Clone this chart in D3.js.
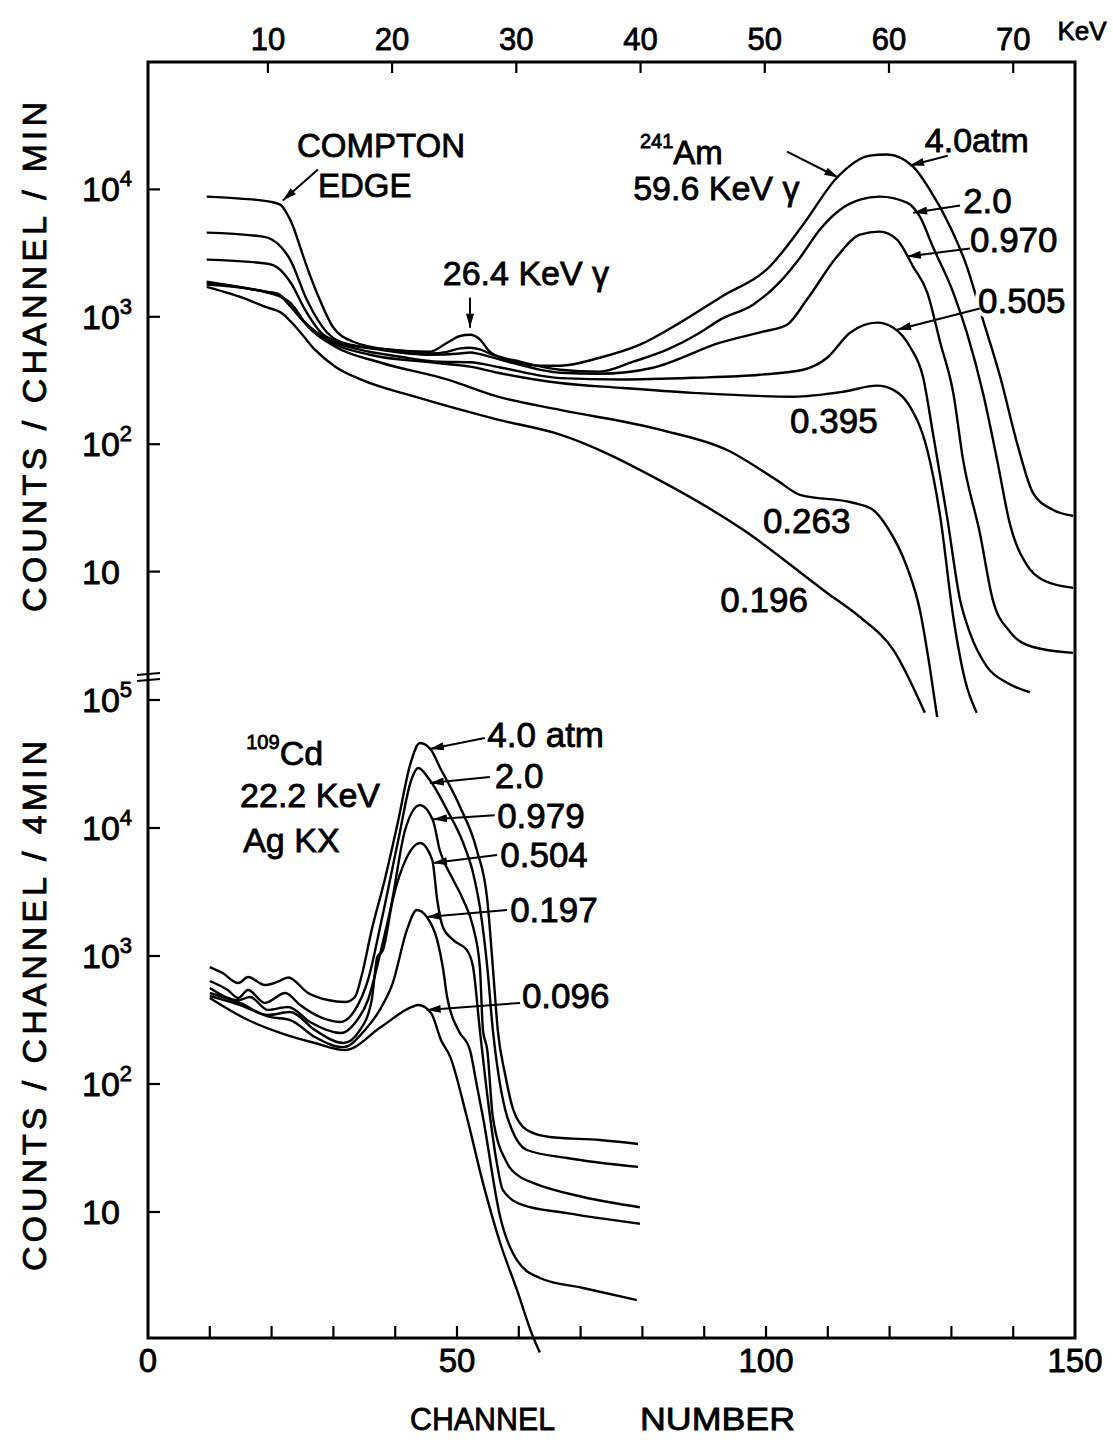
<!DOCTYPE html>
<html>
<head>
<meta charset="utf-8">
<script src="https://cdn.jsdelivr.net/npm/d3@7"></script>
<style>
  body { margin: 0; background: #fff; }
  text { font-family: "Liberation Sans", Arial, sans-serif; fill: #000; stroke: #000; stroke-width: 0.8px; }
  text.halo { fill: #fff; stroke: #fff; stroke-width: 9px; }
</style>
</head>
<body>
<svg id="chart" width="1113" height="1442"></svg>
<script>
// ---- data: [channel, counts] ----
// 241Am, counts / channel / min
var amP40 = [[9.5,8780],[14.9,8470],[19.7,8020],[21.4,7590],[22.3,6690],[23.5,5090],[24.6,3550],[25.7,2480],[27.8,1360],[29.9,836],[33.2,637],[39.2,552],[45.6,532],[48.4,626],[50.5,707],[52.1,723],[53.7,665],[55.3,532],[58.1,461],[63.4,413],[66.7,413],[73.1,477],[79.6,604],[86.1,900],[92.6,1420],[100.6,2480],[106.0,5280],[111.5,12400],[116.8,18400],[119.6,18800],[123.8,15100],[126.5,9960],[129.8,5090],[132.5,2480],[135.1,950],[137.9,338],[140.6,103],[143.2,41.5],[146.4,30.6],[149.7,27.4]];
var amP20 = [[9.5,4580],[18.6,4260],[20.1,4030],[23.0,2810],[25.7,1360],[29.0,750],[32.7,604],[39.2,552],[45.6,515],[48.4,530],[50.5,565],[52.1,572],[53.7,555],[55.3,515],[60.2,444],[66.7,384],[73.1,371],[78.5,444],[84.0,552],[89.3,750],[92.6,950],[97.9,1245],[102.3,1890],[105.5,2910],[108.7,4830],[112.0,6930],[115.2,8300],[118.4,8780],[122.8,7870],[124.9,6110],[127.0,3550],[130.3,1550],[132.5,750],[135.1,253],[137.4,75],[139.5,23.3],[142.2,11.3],[144.8,8.6],[149.7,7.45]];
var amP0970 = [[9.5,2810],[19.4,2610],[21.0,2430],[23.1,1850],[25.4,1140],[28.0,750],[31.2,626],[37.5,552],[45.6,504],[50.5,515],[52.1,525],[53.7,510],[57.0,461],[66.7,364],[73.1,357],[81.7,398],[92.6,626],[99.5,764],[103.4,867],[106.6,1360],[111.5,2970],[115.2,4420],[118.4,4660],[121.2,4030],[123.8,2480],[126.1,1550],[128.2,626],[130.3,253],[131.9,75],[134.6,20.1],[136.7,6.0],[139.5,3.36],[143.2,2.56],[149.7,2.30]];
var amP0505 = [[9.5,1890],[19.4,1570],[21.0,1520],[23.1,1200],[25.4,900],[28.6,685],[34.3,552],[40.8,486],[47.2,444],[52.1,440],[57.0,400],[66.7,330],[76.4,322],[88.2,332],[99.0,351],[106.0,384],[109.9,477],[113.6,750],[118.0,900],[120.6,821],[123.3,582],[125.4,338],[127.0,123],[129.3,26.9],[131.4,6.0],[133.0,3.3],[135.8,1.78],[139.0,1.34],[142.7,1.13]];
var amP0395 = [[9.5,1850],[19.4,1550],[21.4,1460],[23.5,1140],[25.7,867],[29.4,637],[35.9,504],[46.4,436],[52.1,406],[56.6,364],[66.7,302],[76.4,277],[88.2,253],[104.4,236],[112.5,258],[118.0,288],[120.6,267],[123.3,197],[126.1,90],[128.2,26.9],[130.3,4.4],[132.2,1.41],[134.1,0.78]];
var amP0263 = [[9.5,1790],[19.4,1550],[21.4,1440],[23.0,1290],[25.9,836],[30.3,582],[37.7,436],[48.5,321],[56.6,236],[66.7,186],[82.8,130],[93.7,90],[101.8,52],[105.5,40],[114.1,34.7],[117.3,30.6],[119.6,22.4],[122.8,10.9],[124.9,5.0],[126.5,1.78],[127.7,0.72]];
var amP0196 = [[9.5,1720],[13.3,1520],[16.2,1360],[18.9,1200],[21.5,1080],[24.3,792],[27.0,552],[30.3,406],[34.5,321],[43.2,236],[56.6,156],[66.7,119],[82.8,52],[96.3,21.3],[109.9,6.8],[115.2,4.4],[120.6,2.43],[125.7,0.78]];

// 109Cd, counts / channel / 4 min
var cdP40 = [[10.0,820],[12.0,740],[14.6,615],[16.2,685],[18.9,593],[21.0,630],[22.7,680],[25.9,514],[29.1,453],[31.9,437],[33.5,480],[34.6,711],[36.2,1600],[38.3,3930],[40.5,11500],[42.4,31000],[44.0,46100],[45.8,40700],[47.2,30000],[50.5,14600],[53.2,6730],[54.9,2740],[55.8,820],[56.6,264],[57.8,118],[59.1,63],[61.3,43.7],[65.0,38.5],[73.1,36.5],[79.3,34.0]];
var cdP20 = [[10.0,638],[12.9,542],[14.6,470],[16.2,542],[18.9,430],[22.2,514],[24.6,414],[27.8,334],[31.1,305],[33.5,379],[35.6,650],[37.7,1810],[40.5,8050],[42.6,23700],[43.7,29400],[45.6,23700],[48.4,13800],[51.0,7640],[52.6,4450],[53.7,2410],[54.9,820],[55.8,264],[56.6,129],[57.8,63],[58.9,43.7],[61.3,30.5],[67.8,26.4],[79.3,22.5]];
var cdP0979 = [[10.0,562],[14.6,453],[16.5,478],[19.4,379],[22.7,400],[26.2,305],[31.2,250],[33.5,300],[35.6,453],[37.7,1110],[39.3,2410],[41.6,9650],[44.0,15100],[46.1,11500],[47.2,6730],[49.4,3930],[51.0,2740],[52.6,1690],[53.7,820],[54.2,264],[54.9,184],[55.8,55],[58.1,24.1],[60.2,18.8],[62.3,16.9],[70.4,13.1],[79.6,10.9]];
var cdP0504 = [[10.0,514],[14.9,430],[19.4,346],[23.0,365],[27.0,264],[31.6,209],[34.3,264],[36.2,453],[37.1,982],[38.0,1110],[39.6,2740],[41.9,5930],[44.0,7640],[46.0,5620],[46.8,2740],[47.7,1690],[49.4,1330],[51.6,1110],[52.6,820],[53.7,264],[55.0,75],[56.5,23.3],[57.4,14.9],[60.7,11.3],[67.8,9.8],[79.6,8.1]];
var cdP0197 = [[10.0,487],[14.9,414],[19.7,334],[23.0,316],[27.0,233],[31.6,194],[35.1,264],[37.5,379],[39.6,615],[41.9,1600],[43.5,2290],[45.1,2020],[46.8,1330],[47.7,820],[48.4,478],[50.2,264],[52.1,184],[53.2,98],[54.2,55],[57.0,9.1],[59.7,4.2],[63.4,3.05],[70.4,2.55],[79.1,2.05]];
var cdP0096 = [[10.0,470],[16.2,316],[21.5,250],[27.0,209],[31.9,184],[37.7,279],[42.7,400],[43.7,414],[45.8,359],[47.4,221],[48.9,163],[51.6,55],[54.2,16.9],[57.0,5.7],[59.7,2.46],[62.3,1.06],[63.4,0.8]];

// tick labels
var kevTicks = [10, 20, 30, 40, 50, 60, 70];
var channelLabels = [0, 50, 100, 150];
var channelMinor = [10, 20, 30, 40, 50, 60, 70, 80, 90, 100, 110, 120, 130, 140];
var decadesTop = [1e4, 1e3, 1e2, 10];
var decadesBot = [1e5, 1e4, 1e3, 1e2, 10];

// ---- layout ----
var frameTop = 62, frameBottom = 1338;
var x = d3.scaleLinear().domain([0, 150]).range([148, 1075]);
var xKev = d3.scaleLinear().domain([10, 70]).range([x(19.4), x(140)]);
var yTop = d3.scaleLog().domain([1, 1e5]).range([699, frameTop]);
var yBot = d3.scaleLog().domain([1, 1e5]).range([1340, 700]);

var svg = d3.select('#chart');
svg.append('rect').attr('width', 1113).attr('height', 1442).attr('fill', '#fff');

var defs = svg.append('defs');
defs.append('marker')
  .attr('id', 'arrow')
  .attr('viewBox', '0 0 14 8')
  .attr('refX', 14).attr('refY', 4)
  .attr('markerWidth', 15).attr('markerHeight', 8)
  .attr('markerUnits', 'userSpaceOnUse')
  .attr('orient', 'auto')
  .append('path').attr('d', 'M0,0L14,4L0,8Z').attr('fill', '#000');

// ---- curves ----
function drawCurves(series, y) {
  var line = d3.line()
    .x(function(d) { return x(d[0]); })
    .y(function(d) { return y(d[1]); })
    .curve(d3.curveMonotoneX);
  svg.append('g').selectAll('path')
    .data(series)
    .enter().append('path')
    .attr('d', line)
    .attr('fill', 'none')
    .attr('stroke', '#000')
    .attr('stroke-width', 2.4)
    .attr('stroke-linejoin', 'round');
}
drawCurves([amP40, amP20, amP0970, amP0505, amP0395, amP0263, amP0196], yTop);
drawCurves([cdP40, cdP20, cdP0979, cdP0504, cdP0197, cdP0096], yBot);

// ---- frame and ticks ----
svg.append('rect')
  .attr('x', x(0)).attr('y', frameTop)
  .attr('width', x(150) - x(0)).attr('height', frameBottom - frameTop)
  .attr('fill', 'none').attr('stroke', '#000').attr('stroke-width', 3);

var ticks = svg.append('g').attr('stroke', '#000').attr('stroke-width', 2.2);
ticks.selectAll('.kt').data(kevTicks).enter().append('line')
  .attr('x1', xKev).attr('x2', xKev)
  .attr('y1', frameTop).attr('y2', frameTop + 11);
ticks.selectAll('.ct').data(channelMinor).enter().append('line')
  .attr('x1', x).attr('x2', x)
  .attr('y1', frameBottom).attr('y2', frameBottom - 12);
ticks.selectAll('.yt').data(decadesTop).enter().append('line')
  .attr('x1', x(0)).attr('x2', x(0) + 12)
  .attr('y1', yTop).attr('y2', yTop);
ticks.selectAll('.yb').data(decadesBot).enter().append('line')
  .attr('x1', x(0)).attr('x2', x(0) + 12)
  .attr('y1', yBot).attr('y2', yBot);

// axis break marks
[-3, 3].forEach(function(dy) {
  svg.append('line')
    .attr('x1', x(0) - 11).attr('x2', x(0) + 12)
    .attr('y1', 677 + dy + 1).attr('y2', 677 + dy - 1)
    .attr('stroke', '#000').attr('stroke-width', 2.2);
});

// ---- axis labels ----
svg.selectAll('.kl').data(kevTicks).enter().append('text')
  .attr('x', xKev).attr('y', 50)
  .attr('text-anchor', 'middle')
  .style('font-size', '31px')
  .text(function(d) { return d; });
svg.append('text').attr('x', 1082).attr('y', 40)
  .attr('text-anchor', 'middle').style('font-size', '26px').text('KeV');

svg.selectAll('.cl').data(channelLabels).enter().append('text')
  .attr('x', x).attr('y', 1372)
  .attr('text-anchor', 'middle')
  .style('font-size', '33px')
  .text(function(d) { return d; });

function decadeLabels(values, y) {
  values.forEach(function(v) {
    var e = Math.round(Math.log10(v));
    var t = svg.append('text').attr('x', 82).attr('y', y(v) + 12).style('font-size', '34px');
    t.append('tspan').text('10');
    if (e > 1) {
      t.append('tspan').attr('dy', -15).style('font-size', '22px').text(e);
    }
  });
}
decadeLabels(decadesTop, yTop);
decadeLabels(decadesBot, yBot);

svg.append('text')
  .attr('transform', 'translate(46,357) rotate(-90)')
  .attr('text-anchor', 'middle')
  .attr('textLength', 510).attr('lengthAdjust', 'spacing')
  .style('font-size', '34px')
  .text('COUNTS / CHANNEL / MIN');
svg.append('text')
  .attr('transform', 'translate(46,1006) rotate(-90)')
  .attr('text-anchor', 'middle')
  .attr('textLength', 530).attr('lengthAdjust', 'spacing')
  .style('font-size', '34px')
  .text('COUNTS / CHANNEL / 4MIN');

svg.append('text').attr('x', 410).attr('y', 1430)
  .attr('textLength', 145).attr('lengthAdjust', 'spacingAndGlyphs')
  .style('font-size', '32px').text('CHANNEL');
svg.append('text').attr('x', 640).attr('y', 1430)
  .attr('textLength', 155).attr('lengthAdjust', 'spacingAndGlyphs')
  .style('font-size', '32px').text('NUMBER');

// ---- annotations (anchored in data units) ----
function note(y, o) {
  var px = x(o.ch), py = y(o.c), size = o.size || 35;
  function build(cls) {
    var t = svg.append('text').attr('x', px).attr('y', py).style('font-size', size + 'px');
    if (cls) t.attr('class', cls);
    if (o.sup) {
      t.append('tspan').style('font-size', Math.round(size * 0.6) + 'px').attr('dy', -16).text(o.sup);
      t.append('tspan').attr('dy', 16).text(o.t);
    } else {
      t.text(o.t);
    }
  }
  if (o.halo) build('halo');
  build(null);
}
function arrow(y, from, to) {
  svg.append('line')
    .attr('x1', x(from[0])).attr('y1', y(from[1]))
    .attr('x2', x(to[0])).attr('y2', y(to[1]))
    .attr('stroke', '#000').attr('stroke-width', 2)
    .attr('marker-end', 'url(#arrow)');
}

var amNotes = [
  {t: 'COMPTON', ch: 24.1, c: 17800, size: 33},
  {t: 'EDGE', ch: 27.5, c: 8780, size: 33},
  {t: '26.4 KeV γ', ch: 47.7, c: 1790, size: 34},
  {t: 'Am', sup: '241', ch: 79.6, c: 15800, size: 33},
  {t: '59.6 KeV γ', ch: 78.5, c: 8300, size: 34},
  {t: '4.0atm', ch: 125.7, c: 19800, size: 34},
  {t: '2.0', ch: 131.9, c: 6570},
  {t: '0.970', ch: 133.0, c: 3250, halo: true},
  {t: '0.505', ch: 134.3, c: 1080, halo: true},
  {t: '0.395', ch: 103.9, c: 123},
  {t: '0.263', ch: 99.5, c: 20.1},
  {t: '0.196', ch: 92.6, c: 4.8}
];
amNotes.forEach(function(o) { note(yTop, o); });
arrow(yTop, [27.5, 14300], [21.8, 8170]);
arrow(yTop, [52.1, 1413], [52.1, 821]);
arrow(yTop, [103.4, 19800], [111.7, 12400]);
arrow(yTop, [129.4, 18400], [123.3, 15400]);
arrow(yTop, [131.4, 7460], [123.8, 6570]);
arrow(yTop, [133.0, 3430], [122.8, 2970]);
arrow(yTop, [134.6, 1160], [121.2, 792]);

var cdNotes = [
  {t: 'Cd', sup: '109', ch: 15.9, c: 31000, size: 34},
  {t: '22.2 KeV', ch: 14.9, c: 14600, size: 34},
  {t: 'Ag KX', ch: 15.4, c: 6500, size: 34},
  {t: '4.0 atm', ch: 54.9, c: 42900},
  {t: '2.0', ch: 56.1, c: 20500},
  {t: '0.979', ch: 56.5, c: 10000},
  {t: '0.504', ch: 57.0, c: 4960},
  {t: '0.197', ch: 58.6, c: 1840},
  {t: '0.096', ch: 60.5, c: 393}
];
cdNotes.forEach(function(o) { note(yBot, o); });
arrow(yBot, [54.5, 50500], [45.6, 41400]);
arrow(yBot, [55.3, 25000], [45.6, 22500]);
arrow(yBot, [56.1, 12600], [46.1, 11700]);
arrow(yBot, [56.5, 6150], [46.1, 5330]);
arrow(yBot, [58.1, 2290], [45.1, 2020]);
arrow(yBot, [60.2, 430], [45.1, 379]);
</script>
</body>
</html>
